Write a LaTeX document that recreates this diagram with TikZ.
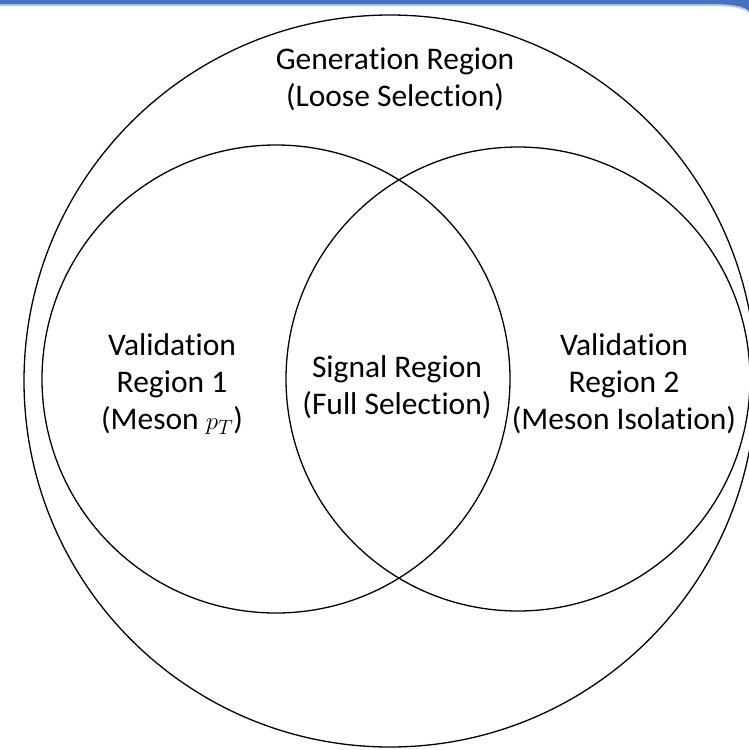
\documentclass[tikz,border=0pt]{standalone}
\usepackage{fontspec}
\setmainfont{Carlito}[Ligatures=NoCommon]
\definecolor{barblue}{HTML}{4472C4}
\definecolor{barlight}{HTML}{B4C7E7}
\tikzset{
  region/.style={draw=black, line width=1.3pt},
  lbl/.style={align=center, font=\fontsize{31.5}{37}\selectfont, inner sep=0pt}
}
\begin{document}
\begin{tikzpicture}[x=1pt,y=-1pt]
\useasboundingbox (0,0) rectangle (749,750);
\clip (0,0) rectangle (749,750);
\fill[white] (0,0) rectangle (749,750);
% top bar
\fill[barlight] (0,0) -- (0,6) -- (708,6) .. controls (732,6) and (744,8) .. (749,13) -- (749,0) -- cycle;
\fill[barblue] (0,0) -- (0,4) -- (708,4) .. controls (732,4) and (744,6) .. (749,11) -- (749,0) -- cycle;
% circles
\node[region, circle, minimum size=732pt, inner sep=0pt] (gen) at (390,381) {};
\node[region, circle, minimum size=468pt, inner sep=0pt] (val1) at (276,379) {};
\node[region, circle, minimum size=464pt, inner sep=0pt] (val2) at (518,379) {};
% labels
\node[lbl] (genl) at (395,79) {Generation Region\\(Loose Selection)};
\node[lbl] (v1l) at (172,384) {Validation\\Region 1\\(Meson $p_T$)};
\node[lbl] (sigl) at (397,387) {Signal Region\\(Full Selection)};
\node[lbl] (v2l) at (624,384) {Validation\\Region 2\\(Meson Isolation)};
\end{tikzpicture}
\end{document}
